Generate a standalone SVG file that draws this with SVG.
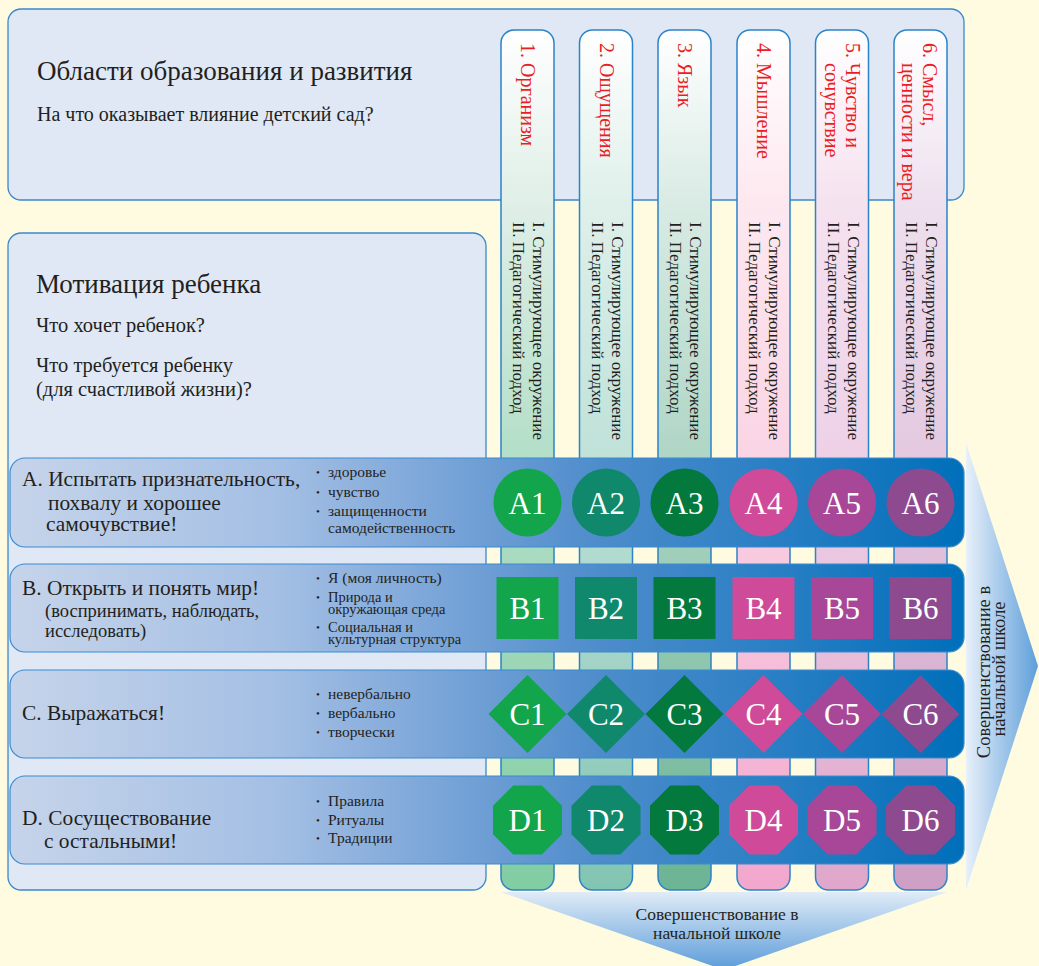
<svg xmlns="http://www.w3.org/2000/svg" width="1039" height="966" viewBox="0 0 1039 966">
<defs>
<style>
.t{font-family:"Liberation Serif","Times New Roman",serif;fill:#231f20}
.panel{fill:#e0e8f5;stroke:#3a88cc;stroke-width:1.3}
.col{stroke:#2b83c8;stroke-width:1.5}
.hdr{font-family:"Liberation Serif","Times New Roman",serif;font-size:20px;fill:#ec1c24}
.sub{font-size:17px}
.row{fill:url(#rowG);stroke:#3a8bd0;stroke-width:1.2}
.rt{font-size:21.4px}
.rs{font-size:18.5px}
.bl{font-size:15.5px}
.bs{font-size:14.5px}
.dot{font-size:11px}
.lbl{font-family:"Liberation Serif","Times New Roman",serif;font-size:31px;fill:#ffffff;text-anchor:middle}
.k1{fill:#13a54b}.k2{fill:#10886b}.k3{fill:#03793e}.k4{fill:#cf4a98}.k5{fill:#a84797}.k6{fill:#8e4a8e}
</style>
<linearGradient id="rowG" gradientUnits="userSpaceOnUse" x1="10" y1="0" x2="964" y2="0">
<stop offset="0" stop-color="#c6d4ea"/><stop offset="0.28" stop-color="#a4bfe4"/><stop offset="0.45" stop-color="#7aa5d8"/><stop offset="0.62" stop-color="#4d8ccb"/><stop offset="0.8" stop-color="#2a7fc4"/><stop offset="1" stop-color="#006fba"/>
</linearGradient>
<linearGradient id="g1" x1="0" y1="0" x2="0" y2="1"><stop offset="0" stop-color="#fff"/><stop offset="0.2" stop-color="#e0efe8"/><stop offset="0.49" stop-color="#b4dfc9"/><stop offset="1" stop-color="#82cda3"/></linearGradient>
<linearGradient id="g2" x1="0" y1="0" x2="0" y2="1"><stop offset="0" stop-color="#fff"/><stop offset="0.2" stop-color="#dff0ea"/><stop offset="0.49" stop-color="#c0e2d9"/><stop offset="1" stop-color="#82c4b2"/></linearGradient>
<linearGradient id="g3" x1="0" y1="0" x2="0" y2="1"><stop offset="0" stop-color="#fff"/><stop offset="0.2" stop-color="#d9ebe4"/><stop offset="0.49" stop-color="#b0d6c6"/><stop offset="1" stop-color="#6bb494"/></linearGradient>
<linearGradient id="g4" x1="0" y1="0" x2="0" y2="1"><stop offset="0" stop-color="#fff"/><stop offset="0.2" stop-color="#fde8f0"/><stop offset="0.49" stop-color="#fad5e5"/><stop offset="1" stop-color="#f2a7cc"/></linearGradient>
<linearGradient id="g5" x1="0" y1="0" x2="0" y2="1"><stop offset="0" stop-color="#fff"/><stop offset="0.2" stop-color="#f5e2ef"/><stop offset="0.49" stop-color="#eed1e7"/><stop offset="1" stop-color="#dfa7cb"/></linearGradient>
<linearGradient id="g6" x1="0" y1="0" x2="0" y2="1"><stop offset="0" stop-color="#fff"/><stop offset="0.2" stop-color="#eee0ee"/><stop offset="0.49" stop-color="#e4c9e0"/><stop offset="1" stop-color="#ce9ec5"/></linearGradient>
<linearGradient id="arrR" x1="0" y1="0" x2="1" y2="0"><stop offset="0" stop-color="#e8f0fa"/><stop offset="1" stop-color="#5e9fda"/></linearGradient>
<linearGradient id="arrB" x1="0" y1="0" x2="0" y2="1"><stop offset="0" stop-color="#e0ebf7"/><stop offset="1" stop-color="#5b9cd9"/></linearGradient>
<circle id="shA" r="34"/>
<rect id="shB" x="-31" y="-31" width="62" height="62"/>
<polygon id="shC" points="0,-39 39,0 0,39 -39,0"/>
<polygon id="shD" points="-14.3,-34.5 14.3,-34.5 34.5,-14.3 34.5,14.3 14.3,34.5 -14.3,34.5 -34.5,14.3 -34.5,-14.3"/>
</defs>

<rect x="0" y="0" width="1039" height="966" fill="#fffbe0"/>

<g id="top-panel">
<rect class="panel" x="8" y="9" width="956" height="191" rx="13"/>
<text class="t" x="37" y="80" font-size="27">Области образования и развития</text>
<text class="t" x="37" y="121" font-size="20">На что оказывает влияние детский сад?</text>
</g>

<g id="left-panel">
<rect class="panel" x="8" y="233" width="478" height="657" rx="13"/>
<text class="t" x="36" y="293" font-size="27">Мотивация ребенка</text>
<text class="t" x="36" y="332" font-size="20.5">Что хочет ребенок?</text>
<text class="t" x="36" y="372" font-size="20.5">Что требуется ребенку</text>
<text class="t" x="36" y="396" font-size="20.5">(для счастливой жизни)?</text>
</g>

<g id="arrows">
<polygon points="966,443 1038,666 966,890" fill="url(#arrR)"/>
<text class="t" font-size="18.5" text-anchor="middle" transform="translate(990,672) rotate(-90)">Совершенствование в</text>
<text class="t" font-size="18.5" text-anchor="middle" transform="translate(1005,669) rotate(-90)">начальной школе</text>
<polygon points="501,892 947,892 724,970" fill="url(#arrB)"/>
<text class="t" font-size="17.5" text-anchor="middle" x="717" y="920">Совершенствование в</text>
<text class="t" font-size="17.5" text-anchor="middle" x="717" y="939">начальной школе</text>
</g>

<g id="col1">
<rect class="col" x="501" y="30" width="53" height="860" rx="13" fill="url(#g1)"/>
<text class="hdr" transform="translate(521,43) rotate(90)">1. Организм</text>
<text class="t sub" transform="translate(533,222) rotate(90)">I. Стимулирующее окружение</text>
<text class="t sub" transform="translate(513,222) rotate(90)">II. Педагогический подход</text>
</g>
<g id="col2">
<rect class="col" x="579.5" y="30" width="53" height="860" rx="13" fill="url(#g2)"/>
<text class="hdr" transform="translate(600,43) rotate(90)">2. Ощущения</text>
<text class="t sub" transform="translate(611.5,222) rotate(90)">I. Стимулирующее окружение</text>
<text class="t sub" transform="translate(591.5,222) rotate(90)">II. Педагогический подход</text>
</g>
<g id="col3">
<rect class="col" x="658" y="30" width="53" height="860" rx="13" fill="url(#g3)"/>
<text class="hdr" transform="translate(678,43) rotate(90)">3. Язык</text>
<text class="t sub" transform="translate(690,222) rotate(90)">I. Стимулирующее окружение</text>
<text class="t sub" transform="translate(670,222) rotate(90)">II. Педагогический подход</text>
</g>
<g id="col4">
<rect class="col" x="737" y="30" width="53" height="860" rx="13" fill="url(#g4)"/>
<text class="hdr" transform="translate(757,43) rotate(90)">4. Мышление</text>
<text class="t sub" transform="translate(769,222) rotate(90)">I. Стимулирующее окружение</text>
<text class="t sub" transform="translate(749,222) rotate(90)">II. Педагогический подход</text>
</g>
<g id="col5">
<rect class="col" x="815.5" y="30" width="53" height="860" rx="13" fill="url(#g5)"/>
<text class="hdr" transform="translate(846,43) rotate(90)">5. Чувство и</text>
<text class="hdr" transform="translate(825,63) rotate(90)">сочувствие</text>
<text class="t sub" transform="translate(847.5,222) rotate(90)">I. Стимулирующее окружение</text>
<text class="t sub" transform="translate(827.5,222) rotate(90)">II. Педагогический подход</text>
</g>
<g id="col6">
<rect class="col" x="894" y="30" width="53" height="860" rx="13" fill="url(#g6)"/>
<text class="hdr" transform="translate(923,43) rotate(90)">6. Смысл,</text>
<text class="hdr" transform="translate(902,63) rotate(90)">ценности и вера</text>
<text class="t sub" transform="translate(926,222) rotate(90)">I. Стимулирующее окружение</text>
<text class="t sub" transform="translate(906,222) rotate(90)">II. Педагогический подход</text>
</g>

<g id="rowA">
<rect class="row" x="10" y="458" width="954" height="89" rx="15"/>
<text class="t rt" x="22" y="486">A. Испытать признательность,</text>
<text class="t rt" x="48" y="510">похвалу и хорошее</text>
<text class="t rt" x="46" y="531">самочувствие!</text>
<text class="t dot" x="316" y="476">•</text><text class="t bl" x="328" y="477">здоровье</text>
<text class="t dot" x="316" y="496">•</text><text class="t bl" x="328" y="497">чувство</text>
<text class="t dot" x="316" y="515">•</text><text class="t bl" x="328" y="516">защищенности</text>
<text class="t bl" x="328" y="533">самодейственность</text>
<use href="#shA" x="527.5" y="502.5" class="k1"/><text class="lbl" x="527.5" y="513.5">A1</text>
<use href="#shA" x="606" y="502.5" class="k2"/><text class="lbl" x="606" y="513.5">A2</text>
<use href="#shA" x="684.5" y="502.5" class="k3"/><text class="lbl" x="684.5" y="513.5">A3</text>
<use href="#shA" x="763.5" y="502.5" class="k4"/><text class="lbl" x="763.5" y="513.5">A4</text>
<use href="#shA" x="842" y="502.5" class="k5"/><text class="lbl" x="842" y="513.5">A5</text>
<use href="#shA" x="920.5" y="502.5" class="k6"/><text class="lbl" x="920.5" y="513.5">A6</text>
</g>

<g id="rowB">
<rect class="row" x="10" y="564" width="954" height="88" rx="15"/>
<text class="t rt" x="22" y="595">B. Открыть и понять мир!</text>
<text class="t rs" x="45" y="617">(воспринимать, наблюдать,</text>
<text class="t rs" x="45" y="637">исследовать)</text>
<text class="t dot" x="316" y="582">•</text><text class="t bl" x="328" y="583">Я (моя личность)</text>
<text class="t dot" x="316" y="601">•</text><text class="t bs" x="328" y="602">Природа и</text>
<text class="t bs" x="328" y="614">окружающая среда</text>
<text class="t dot" x="316" y="631">•</text><text class="t bs" x="328" y="632">Социальная и</text>
<text class="t bs" x="328" y="644">культурная структура</text>
<use href="#shB" x="527.5" y="608" class="k1"/><text class="lbl" x="527.5" y="619">B1</text>
<use href="#shB" x="606" y="608" class="k2"/><text class="lbl" x="606" y="619">B2</text>
<use href="#shB" x="684.5" y="608" class="k3"/><text class="lbl" x="684.5" y="619">B3</text>
<use href="#shB" x="763.5" y="608" class="k4"/><text class="lbl" x="763.5" y="619">B4</text>
<use href="#shB" x="842" y="608" class="k5"/><text class="lbl" x="842" y="619">B5</text>
<use href="#shB" x="920.5" y="608" class="k6"/><text class="lbl" x="920.5" y="619">B6</text>
</g>

<g id="rowC">
<rect class="row" x="10" y="670" width="954" height="88" rx="15"/>
<text class="t rt" x="22" y="720">C. Выражаться!</text>
<text class="t dot" x="316" y="698">•</text><text class="t bl" x="328" y="699">невербально</text>
<text class="t dot" x="316" y="717">•</text><text class="t bl" x="328" y="718">вербально</text>
<text class="t dot" x="316" y="736">•</text><text class="t bl" x="328" y="737">творчески</text>
<use href="#shC" x="527.5" y="714" class="k1"/><text class="lbl" x="527.5" y="725">C1</text>
<use href="#shC" x="606" y="714" class="k2"/><text class="lbl" x="606" y="725">C2</text>
<use href="#shC" x="684.5" y="714" class="k3"/><text class="lbl" x="684.5" y="725">C3</text>
<use href="#shC" x="763.5" y="714" class="k4"/><text class="lbl" x="763.5" y="725">C4</text>
<use href="#shC" x="842" y="714" class="k5"/><text class="lbl" x="842" y="725">C5</text>
<use href="#shC" x="920.5" y="714" class="k6"/><text class="lbl" x="920.5" y="725">C6</text>
</g>

<g id="rowD">
<rect class="row" x="10" y="776" width="954" height="88" rx="15"/>
<text class="t rt" x="22" y="825">D. Сосуществование</text>
<text class="t rt" x="44" y="848">с остальными!</text>
<text class="t dot" x="316" y="805">•</text><text class="t bl" x="328" y="806">Правила</text>
<text class="t dot" x="316" y="824">•</text><text class="t bl" x="328" y="825">Ритуалы</text>
<text class="t dot" x="316" y="842">•</text><text class="t bl" x="328" y="843">Традиции</text>
<use href="#shD" x="527.5" y="820" class="k1"/><text class="lbl" x="527.5" y="831">D1</text>
<use href="#shD" x="606" y="820" class="k2"/><text class="lbl" x="606" y="831">D2</text>
<use href="#shD" x="684.5" y="820" class="k3"/><text class="lbl" x="684.5" y="831">D3</text>
<use href="#shD" x="763.5" y="820" class="k4"/><text class="lbl" x="763.5" y="831">D4</text>
<use href="#shD" x="842" y="820" class="k5"/><text class="lbl" x="842" y="831">D5</text>
<use href="#shD" x="920.5" y="820" class="k6"/><text class="lbl" x="920.5" y="831">D6</text>
</g>

<g id="connectors"></g>
</svg>
